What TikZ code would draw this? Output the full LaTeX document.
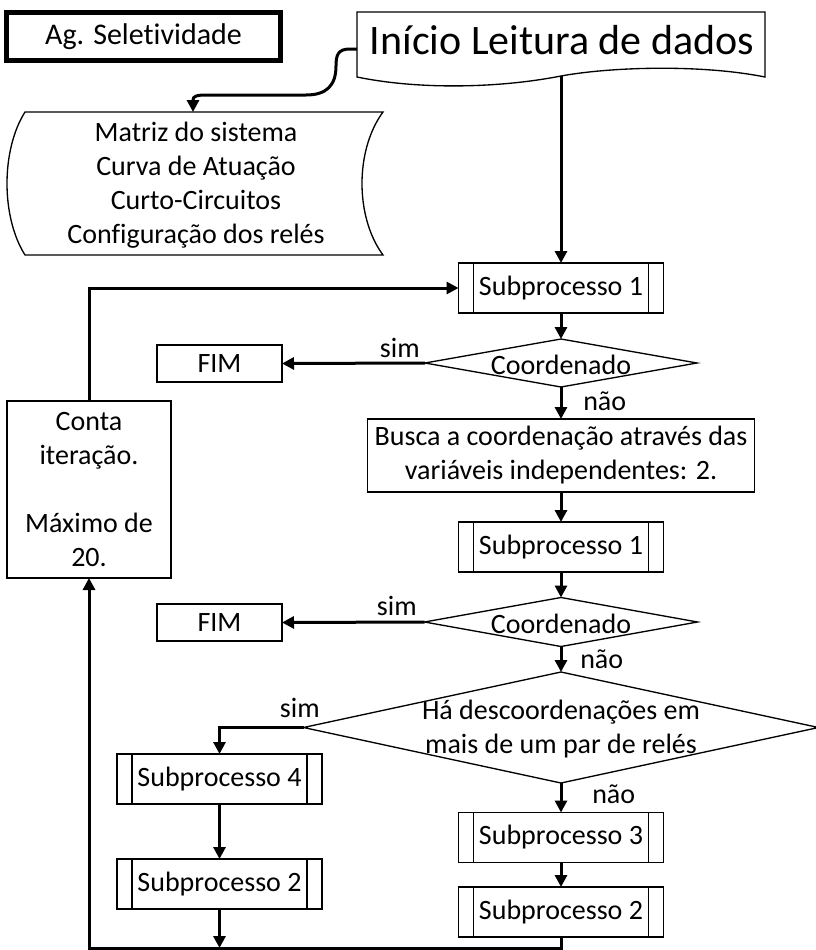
\documentclass[tikz,border=0pt]{standalone}
\usepackage{fontspec}
\setmainfont{Carlito}[Ligatures=NoCommon]
\usetikzlibrary{shapes.geometric,arrows.meta,calc}

\begin{document}
\begin{tikzpicture}[x=0.75pt,y=-0.75pt,
  thinline/.style={line width=1pt},
  txt/.style={font=\fontsize{21}{25.5}\selectfont,inner sep=0pt,align=center},
  box/.style={txt,draw,thinline,rectangle,outer sep=0pt},
  subproc/.style={box,minimum width=153.75pt,minimum height=37.5pt,
    path picture={
      \draw[thinline] ([xshift=11.25pt]path picture bounding box.north west) -- ([xshift=11.25pt]path picture bounding box.south west);
      \draw[thinline] ([xshift=-11.25pt]path picture bounding box.north east) -- ([xshift=-11.25pt]path picture bounding box.south east);}},
  endbox/.style={box,minimum width=93.75pt,minimum height=27.75pt},
  dia/.style={draw,thinline,diamond,inner sep=0pt,outer sep=0pt},
  conn/.style={line width=2.25pt},
  arr/.style={conn,-{Triangle[length=9pt,width=9pt]}},
  lbl/.style={font=\fontsize{21}{25.5}\selectfont,inner sep=0pt}]

\useasboundingbox (0,0) rectangle (816,950);

% title box
\node[txt,draw,line width=3.75pt,minimum width=205.5pt,minimum height=36pt,
      font=\fontsize{22.5}{26}\selectfont] (ag) at (143.5,36.5) {Ag. Seletividade};

% start document shape with wavy bottom
\draw[thinline] (357,12) -- (765,12) -- (765,77)
  .. controls (700,64) and (610,67) .. (561,76)
  .. controls (500,88) and (420,90) .. (357,77) -- cycle;
\node[inner sep=0pt,font=\fontsize{31.5}{36}\selectfont] (inicio) at (562,40) {Início Leitura de dados};
\coordinate (inicioL) at (357,49);
\coordinate (inicioB) at (561,76);

% stored data shape
\draw[thinline] (25,112) -- (383,112)
  .. controls (355,150) and (355,217) .. (383,255) -- (25,255)
  .. controls (1,217) and (1,150) .. (25,112) -- cycle;
\node[txt] (matriz) at (196,185) {Matriz do sistema\\Curva de Atuação\\Curto-Circuitos\\Configuração dos relés};
\coordinate (matrizT) at (193,112);

% main column
\node[subproc] (sp1a) at (561,288) {Subprocesso 1};
\node[dia,minimum width=204pt,minimum height=36pt] (d1) at (561,363) {};
\node[txt] (d1t) at (561,365) {Coordenado};
\node[endbox] (fim1) at (219.5,363.5) {FIM};
\node[box,minimum width=290.25pt,minimum height=54.75pt] (busca) at (561,455.5)
  {Busca a coordenação através das\\variáveis independentes: 2.};
\node[subproc] (sp1b) at (561,547) {Subprocesso 1};
\node[dia,minimum width=204.75pt,minimum height=36.75pt] (d2) at (561,622) {};
\node[txt] (d2t) at (561,624) {Coordenado};
\node[endbox] (fim2) at (219.5,622.5) {FIM};
\node[dia,minimum width=386.25pt,minimum height=83.25pt] (d3) at (561,727.5) {};
\node[txt] (d3t) at (561,729.5) {Há descoordenações em\\mais de um par de relés};
\node[subproc] (sp3) at (561,837.5) {Subprocesso 3};
\node[subproc] (sp2r) at (561,912) {Subprocesso 2};
\node[subproc] (sp4) at (219.5,779) {Subprocesso 4};
\node[subproc] (sp2l) at (219.5,884) {Subprocesso 2};

% iteration counter
\node[box,minimum width=123pt,minimum height=132.75pt] (conta) at (89,489.5)
  {Conta\\iteração.\\\mbox{}\\Máximo de\\20.};
\coordinate (bot) at (89,948);

% branch labels
\node[lbl,anchor=base east] (sim1) at (420,357.5) {sim};
\node[lbl,anchor=base west] (nao1) at (583,410) {não};
\node[lbl,anchor=base east] (sim2) at (417,615) {sim};
\node[lbl,anchor=base west] (nao2) at (580,668) {não};
\node[lbl,anchor=base east] (sim3) at (320,717) {sim};
\node[lbl,anchor=base west] (nao3) at (592,803) {não};

% connectors
\draw[arr] (inicioL) -- (350,49) .. controls (338,49) and (336,55) .. (336,66)
  .. controls (336,86) and (326,95) .. (306,95) -- (207,95)
  .. controls (197,95) and (193,96) .. (193,100) -- (matrizT);
\draw[arr] (inicioB) -- (sp1a.north);
\draw[arr] (sp1a.south) -- (d1.north);
\draw[arr] (d1.west) -- (fim1.east);
\draw[arr] (d1.south) -- (busca.north);
\draw[arr] (busca.south) -- (sp1b.north);
\draw[arr] (sp1b.south) -- (d2.north);
\draw[arr] (d2.west) -- (fim2.east);
\draw[arr] (d2.south) -- (d3.north);
\draw[arr] (d3.west) -| (sp4.north);
\draw[arr] (d3.south) -- (sp3.north);
\draw[arr] (sp3.south) -- (sp2r.north);
\draw[arr] (sp4.south) -- (sp2l.north);
\draw[arr] (sp2l.south) -- (sp2l.south |- bot);
\draw[arr] (sp2r.south) |- (bot) -- (conta.south);
\draw[arr] (conta.north) |- (sp1a.west);

\end{tikzpicture}
\end{document}
